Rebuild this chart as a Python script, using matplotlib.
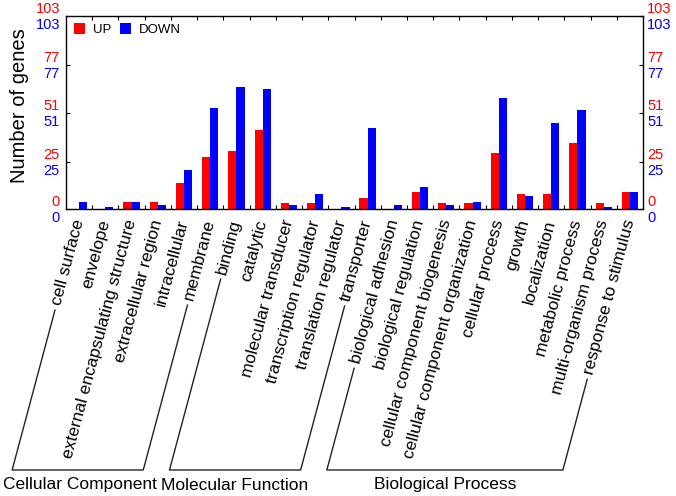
import numpy as np
import matplotlib
matplotlib.use('Agg')
import matplotlib.pyplot as plt
import matplotlib.transforms as mtransforms
from matplotlib.lines import Line2D

categories = ['cell surface', 'envelope', 'external encapsulating structure',
              'extracellular region', 'intracellular', 'membrane',
              'binding', 'catalytic', 'molecular transducer',
              'transcription regulator', 'translation regulator', 'transporter',
              'biological adhesion', 'biological regulation',
              'cellular component biogenesis', 'cellular component organization',
              'cellular process', 'growth', 'localization', 'metabolic process',
              'multi-organism process', 'response to stimulus']
groups = ['Cellular Component', 'Molecular Function', 'Biological Process']
group_sizes = [6, 6, 10]
up = [0, 0, 4, 4, 14, 28, 31, 42, 3, 3, 0, 6, 0, 9, 3, 3, 30, 8, 8, 35, 3, 9]
down = [4, 1, 4, 2, 21, 54, 65, 64, 2, 8, 1, 43, 2, 12, 2, 4, 59, 7, 46, 53, 1, 9]
yticks = [0, 25, 51, 77, 103]

plt.rcParams['font.family'] = ['Liberation Sans', 'DejaVu Sans']
W, H = 676, 496
fig = plt.figure(figsize=(W / 100, H / 100), dpi=100)
ax = fig.add_axes([66 / W, 1 - 209 / H, 577 / W, 193 / H])

x = np.arange(len(categories))
bw = 0.31
ax.bar(x - bw / 2, up, bw, color='#ff0000', label='UP', linewidth=0)
ax.bar(x + bw / 2, down, bw, color='#0000ff', label='DOWN', linewidth=0)
ax.set_xlim(-0.5, len(categories) - 0.5)
ax.set_ylim(0, 103)
ax.set_xticks(x[:-1] + 0.5)
ax.set_xticklabels([])
ax.set_yticks(yticks)
ax.set_yticklabels([])
ax.tick_params(direction='in', length=3, width=0.8, top=True, right=True)
for s in ax.spines.values():
    s.set_linewidth(1.0)

# dual-coloured y tick labels
bt = mtransforms.blended_transform_factory(ax.transAxes, ax.transData)
for v in yticks:
    for xa, ha, dx in [(0, 'right', -6), (1, 'left', 4)]:
        ax.text(xa, v, str(v), color='#ff0000', ha=ha, va='center', fontsize=10.5,
                transform=mtransforms.offset_copy(bt, fig, x=dx, y=7, units='dots'))
        ax.text(xa, v, str(v), color='#0000ff', ha=ha, va='center', fontsize=10.5,
                transform=mtransforms.offset_copy(bt, fig, x=dx, y=-9, units='dots'))

fig.text(20 / W, 1 - 106 / H, 'Number of genes', rotation=90, ha='center',
         va='center', fontsize=14.5)

leg = ax.legend(loc='upper left', bbox_to_anchor=(0.014, 0.962), ncol=2,
                frameon=False, fontsize=9.5, handlelength=0.85, handleheight=0.85,
                handletextpad=0.6, columnspacing=0.6, borderpad=0, borderaxespad=0)

# category labels
theta = np.deg2rad(75)
d = np.array([np.cos(theta), np.sin(theta)])
fs = 12.5
dy_lab = -11
texts = []
for i, c in enumerate(categories):
    t = ax.text(i, 0, c, rotation=75, rotation_mode='anchor', ha='right', va='center',
                fontsize=fs,
                transform=mtransforms.offset_copy(ax.transData, fig, x=0, y=dy_lab, units='dots'))
    texts.append(t)

fig.canvas.draw()
renderer = fig.canvas.get_renderer()

def text_start(i):
    t = texts[i]
    A = t.get_transform().transform((i, 0))
    w, h, dd = renderer.get_text_width_height_descent(t.get_text(), t.get_fontproperties(), ismath=False)
    return A, w

ybr = H - 470
gap = 5
start = 0
for g, n in zip(groups, group_sizes):
    pts = []
    for idx in (start, start + n - 1):
        A, w = text_start(idx)
        P0 = A - (w + gap) * d
        tt = (A[1] - ybr) / d[1]
        P1 = A - tt * d
        pts.append((P0, P1))
    (a0, a1), (b0, b1) = pts
    xs = [a0[0], a1[0], b1[0], b0[0]]
    ys = [a0[1], a1[1], b1[1], b0[1]]
    fig.add_artist(Line2D(np.array(xs) / W, np.array(ys) / H, color='#222222', lw=1.0,
                          transform=fig.transFigure))
    cx = max((a1[0] + b1[0]) / 2, 80)
    fig.text(cx / W, 11 / H, g, ha='center', va='center', fontsize=12.5)
    start += n

fig.savefig('out.png', dpi=100)
